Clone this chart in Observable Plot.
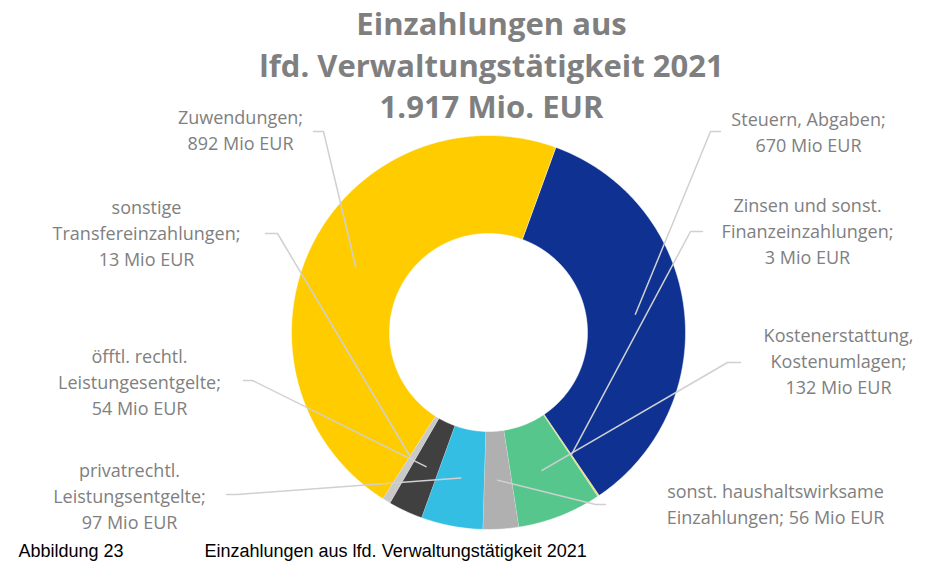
<!DOCTYPE html>
<html><head><meta charset="utf-8">
<script src="https://cdn.jsdelivr.net/npm/d3@7"></script>
<script src="https://cdn.jsdelivr.net/npm/@observablehq/plot@0.6"></script>
<style>html,body{margin:0;padding:0;background:#fff}</style>
</head><body><div id="chart"></div>
<script>
// ---- data ----
const categories = ["Steuern, Abgaben", "Zinsen und sonst. Finanzeinzahlungen", "Kostenerstattung, Kostenumlagen", "sonst. haushaltswirksame Einzahlungen", "privatrechtl. Leistungsentgelte", "öfftl. rechtl. Leistungesentgelte", "sonstige Transfereinzahlungen", "Zuwendungen"];
const values = [670, 3, 132, 56, 97, 54, 13, 892];
const colors = ["#0F3292", "#E6E07A", "#57C68C", "#B0B0B0", "#35BEE4", "#404040", "#C9C9C9", "#FFCC00"];
const labelLines = [
  ["Steuern, Abgaben;", "670 Mio EUR"],
  ["Zinsen und sonst.", "Finanzeinzahlungen;", "3 Mio EUR"],
  ["Kostenerstattung,", "Kostenumlagen;", "132 Mio EUR"],
  ["sonst. haushaltswirksame", "Einzahlungen; 56 Mio EUR"],
  ["privatrechtl.", "Leistungsentgelte;", "97 Mio EUR"],
  ["öfftl. rechtl.", "Leistungesentgelte;", "54 Mio EUR"],
  ["sonstige", "Transfereinzahlungen;", "13 Mio EUR"],
  ["Zuwendungen;", "892 Mio EUR"]
];
const titleLines = ["Einzahlungen aus", "lfd. Verwaltungstätigkeit 2021", "1.917 Mio. EUR"];
const captionNumber = "Abbildung 23";
const captionText = "Einzahlungen aus lfd. Verwaltungstätigkeit 2021";

// ---- layout ----
const W = 934, H = 561;
const cx = 488, cy = 332, R = 197, r = 99;
const startDeg = 20;
// [textX, firstLineY, elbowX, elbowY, endX, endY]
const labelPos = [
  [808, 120, 710, 131, 720, 131],
  [807, 206, 690, 231, 702, 231],
  [838, 336, 727, 362, 740, 362],
  [775, 492, 595, 504, 605, 504],
  [129, 471, 237, 494, 226, 494],
  [139, 357, 252, 380, 243, 380],
  [146, 208, 277, 233, 265, 233],
  [240, 118, 323, 131, 313, 131]
];
const lineGap = 26;

const data = categories.map((cat, i) => ({cat, value: values[i]}));
const a0 = startDeg * Math.PI / 180;
const arcs = d3.pie().sort(null).value(d => d.value).startAngle(a0).endAngle(a0 + 2 * Math.PI)(data);

const slicePts = arcs.flatMap(a => {
  const n = Math.max(2, Math.ceil((a.endAngle - a.startAngle) / 0.01));
  const pts = [];
  for (let i = 0; i <= n; i++) {
    const t = a.startAngle + (a.endAngle - a.startAngle) * i / n;
    pts.push({cat: a.data.cat, x: cx + R * Math.sin(t), y: cy - R * Math.cos(t)});
  }
  for (let i = n; i >= 0; i--) {
    const t = a.startAngle + (a.endAngle - a.startAngle) * i / n;
    pts.push({cat: a.data.cat, x: cx + r * Math.sin(t), y: cy - r * Math.cos(t)});
  }
  return pts;
});

const rm = (R + r) / 2;
const leaderPts = arcs.flatMap((a, i) => {
  const m = (a.startAngle + a.endAngle) / 2;
  const p = labelPos[i];
  return [
    {k: i, x: cx + rm * Math.sin(m), y: cy - rm * Math.cos(m)},
    {k: i, x: p[2], y: p[3]},
    {k: i, x: p[4], y: p[5]}
  ];
});

const labelRows = labelLines.flatMap((lines, i) =>
  lines.map((t, j) => ({x: labelPos[i][0], y: labelPos[i][1] + j * lineGap, text: t})));

const titleRows = titleLines.map((t, i) => ({x: 491, y: 25 + i * 41.5, text: t}));
const captionRows = [{x: 18, y: 551, text: captionNumber}, {x: 204, y: 551, text: captionText}];

const plot = Plot.plot({
  width: W, height: H, margin: 0,
  x: {domain: [0, W], range: [0, W], axis: null},
  y: {domain: [0, H], range: [0, H], axis: null},
  color: {domain: categories, range: colors},
  style: {fontFamily: "'Open Sans', sans-serif", background: "white", overflow: "visible"},
  marks: [
    Plot.line(slicePts, {x: "x", y: "y", z: "cat", fill: "cat", stroke: "white", strokeWidth: 0.5, curve: "linear"}),
    Plot.line(leaderPts, {x: "x", y: "y", z: "k", stroke: "#D0D0D0", strokeWidth: 1.5}),
    Plot.text(labelRows, {x: "x", y: "y", text: "text", fill: "#808080", fontSize: 18, textAnchor: "middle"}),
    Plot.text(titleRows, {x: "x", y: "y", text: "text", fill: "#7F7F7F", fontSize: 31, fontWeight: "bold", textAnchor: "middle"}),
    Plot.text(captionRows, {x: "x", y: "y", text: "text", fill: "#000", fontSize: 18, textAnchor: "start", fontFamily: "'Liberation Sans', Arial, sans-serif"})
  ]
});
document.getElementById("chart").appendChild(plot);
</script>
</body></html>
